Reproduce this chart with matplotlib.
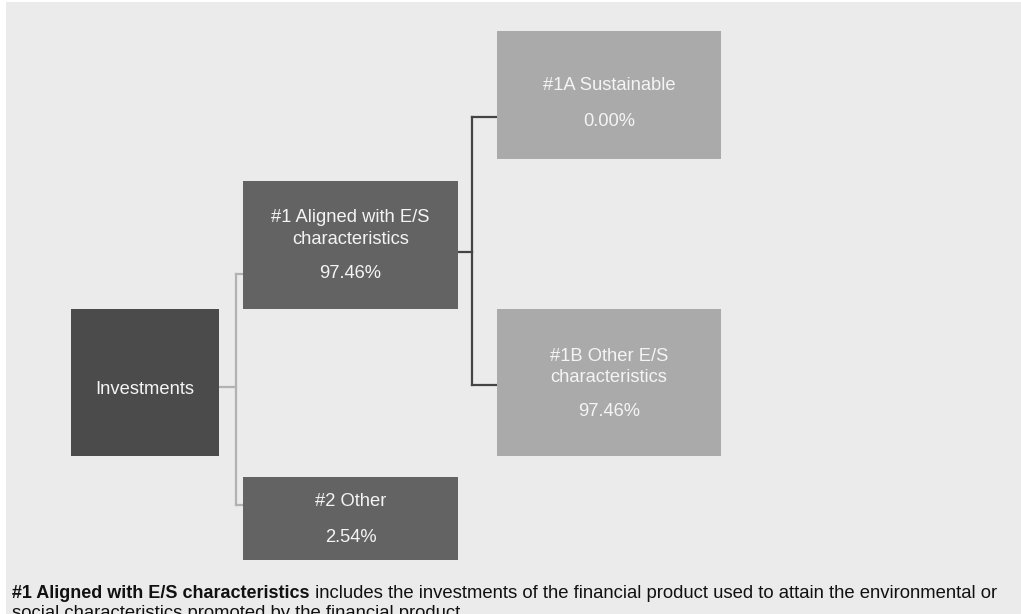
import matplotlib.pyplot as plt
from matplotlib.patches import Rectangle

plt.rcParams['font.family'] = ['Liberation Sans', 'DejaVu Sans']

# Node data
node_labels = ["Investments", "#1 Aligned with E/S\ncharacteristics", "#2 Other",
               "#1A Sustainable", "#1B Other E/S\ncharacteristics"]
node_values = [None, 97.46, 2.54, 0.00, 97.46]
parents = [None, 0, 0, 1, 1]

footnote_bold = "#1 Aligned with E/S characteristics"
footnote_rest = " includes the investments of the financial product used to attain the environmental or"
footnote_line2 = "social characteristics promoted by the financial product."

# Layout (pixels): x0, y0, x1, y1
boxes = [(71, 309, 219, 456), (243, 181, 458, 309), (243, 477, 458, 560),
         (497, 31, 721, 159), (497, 309, 721, 456)]
box_colors = ["#4b4b4b", "#636363", "#636363", "#aaaaaa", "#aaaaaa"]
label_y = [389, 228.5, 502, 86, 367]
pct_y = [None, 274, 537, 121, 412]
# elbow x and y where each child's branch meets its box
elbow_x = {0: 236, 1: 472}
branch_y = [None, 274, 505, 117, 385]
stem_y = {0: 387, 1: 252}
line_colors = {0: "#b2b2b2", 1: "#444444"}

fig = plt.figure(figsize=(10.21, 6.14), dpi=100)
fig.patch.set_facecolor("white")
ax = fig.add_axes([0, 0, 1, 1])
ax.set_xlim(0, 1021)
ax.set_ylim(614, 0)
ax.axis("off")

ax.add_patch(Rectangle((6, 2), 1030, 630, facecolor="#ebebeb", edgecolor="none",
                       zorder=0, clip_on=False))

# connectors
for p in elbow_x:
    x0 = boxes[p][2]
    ex = elbow_x[p]
    kids = [i for i, q in enumerate(parents) if q == p]
    ys = [branch_y[k] for k in kids]
    ax.plot([x0, ex], [stem_y[p], stem_y[p]], color=line_colors[p], lw=1.6, zorder=1)
    ax.plot([ex, ex], [min(ys), max(ys)], color=line_colors[p], lw=1.6, zorder=1)
    for k in kids:
        ax.plot([ex, boxes[k][0]], [branch_y[k], branch_y[k]], color=line_colors[p],
                lw=1.6, zorder=1)

# boxes
for i, (x0, y0, x1, y1) in enumerate(boxes):
    ax.add_patch(Rectangle((x0, y0), x1 - x0, y1 - y0, facecolor=box_colors[i],
                           edgecolor="none", zorder=2))
    cx = (x0 + x1) / 2
    ax.text(cx, label_y[i], node_labels[i], ha="center", va="center", color="#f4f4f4",
            fontsize=13.2, linespacing=1.38, zorder=3)
    if node_values[i] is not None:
        ax.text(cx, pct_y[i], f"{node_values[i]:.2f}%", ha="center", va="center",
                color="#f4f4f4", fontsize=13.2, zorder=3)

# footnote
t = ax.text(12, 598, footnote_bold, fontsize=13, fontweight="bold", color="#111111",
            va="baseline", ha="left")
ax.annotate(footnote_rest, xy=(1, 0), xycoords=t, va="bottom", ha="left",
            fontsize=13.35, color="#111111")
ax.text(12, 618, footnote_line2, fontsize=13.35, color="#111111", va="baseline", ha="left")

fig.savefig("out.png", dpi=100)
